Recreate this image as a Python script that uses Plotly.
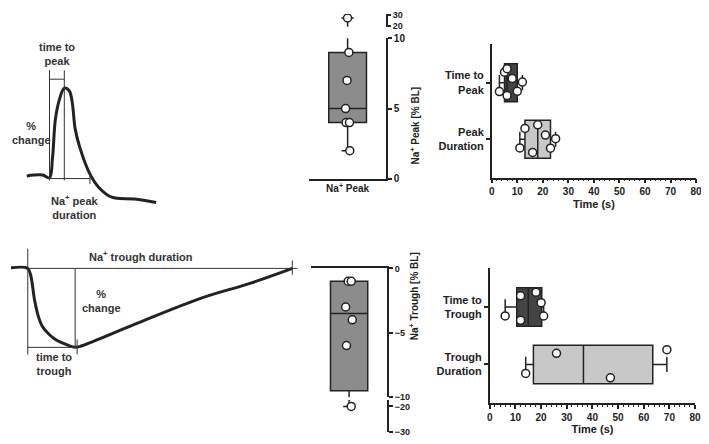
import math
import plotly.graph_objects as go

W, H = 709, 444          # reference picture size
OFF = 8                  # page body margin of the html page
FW, FH = W - OFF, H - OFF

# ---------------- data ----------------
peak_cat = ["Na<sup>+</sup> Peak"]
na_peak = [2, 4, 4, 5, 7, 9, 27]            # % BL
na_trough = [-20, -6, -4, -3, -1, -1]       # % BL
peak_ticks_low = [0, 5, 10]
peak_ticks_high = [20, 30]
trough_ticks_high = [0, -5, -10]
trough_ticks_low = [-20, -30]

peak_cats = ["Time to<br>Peak", "Peak<br>Duration"]
time_to_peak = [3, 5, 6, 6, 8, 10, 12]      # s
peak_duration = [11, 13, 16, 18, 21, 23, 25]
trough_cats = ["Time to<br>Trough", "Trough<br>Duration"]
time_to_trough = [6, 12, 12, 18, 20, 21]
trough_duration = [14, 26, 47, 69]
time_ticks = [0, 10, 20, 30, 40, 50, 60, 70, 80]

# schematic traces (arbitrary time units, % change from baseline)
peak_curve_t = [-1, 15, 22, 25, 28, 32, 37, 42, 45, 48, 53, 63, 72, 85, 108, 130]
peak_curve_v = [1, 2, -1, 21, 65, 87, 100, 97, 84, 54, 32, 3, -12, -23, -25, -29]
trough_curve_t = [-22, 0, 3, 7, 11, 15, 22, 28, 38, 48, 55, 108, 175, 225, 268]
trough_curve_v = [0, 0, -9, -41, -62, -74, -84, -90, -96, -100, -98, -71, -38, -19, 0]
peak_rise_t, peak_top_t, peak_end_t = 22, 37, 63
trough_start_t, trough_min_t, trough_end_t = 0, 48, 268

# ---------------- helpers (reference pixels -> paper) ----------------
def px(a):
    return (a - OFF) / FW

def py(b):
    return 1 - (b - OFF) / FH

def dx(a, b):
    return [max(px(a), 0), min(px(b), 1)]

def dy(top, bottom):
    return [max(py(bottom), 0), min(py(top), 1)]

def quant(vals, p):
    s = sorted(vals)
    n = len(s)
    pos = (n + 1) * p
    k = math.floor(pos)
    f = pos - k
    if k < 1:
        return s[0]
    if k >= n:
        return s[-1]
    return s[k - 1] + f * (s[k] - s[k - 1])

def stats(vals):
    return dict(q1=[quant(vals, 0.25)], median=[quant(vals, 0.5)],
                q3=[quant(vals, 0.75)], lowerfence=[min(vals)], upperfence=[max(vals)])

INK = "#222222"
FONT = "Liberation Sans, Arial, sans-serif"
pt_marker = dict(color="white", size=8, line=dict(color=INK, width=1.5))
clear = "rgba(0,0,0,0)"

fig = go.Figure()

# ---------------- schematics ----------------
fig.add_trace(go.Scatter(x=peak_curve_t, y=peak_curve_v, mode="lines",
                         line=dict(color=INK, width=3, shape="spline"),
                         xaxis="x", yaxis="y", hoverinfo="skip"))
gt = [peak_rise_t, peak_rise_t, None, peak_top_t, peak_top_t, None,
      peak_rise_t, peak_top_t, None, peak_rise_t, peak_end_t, None, peak_end_t, peak_end_t]
gv = [120, -4, None, 120, -4, None, 110, 110, None, -2, -2, None, 3, -8]
fig.add_trace(go.Scatter(x=gt, y=gv, mode="lines", line=dict(color="#333", width=1),
                         xaxis="x", yaxis="y", hoverinfo="skip"))

fig.add_trace(go.Scatter(x=trough_curve_t, y=trough_curve_v, mode="lines",
                         line=dict(color=INK, width=3, shape="spline"),
                         xaxis="x2", yaxis="y2", hoverinfo="skip"))
bt = [trough_start_t, trough_end_t + 5, None, trough_start_t, trough_start_t, None,
      trough_min_t, trough_min_t, None, trough_end_t, trough_end_t, None,
      trough_start_t, trough_min_t + 2, None, trough_min_t + 2, trough_min_t + 2]
bv = [0, 0, None, 25, -109, None, 0, -100, None, 10, -8, None, -100, -100, None, -90, -109]
fig.add_trace(go.Scatter(x=bt, y=bv, mode="lines", line=dict(color="#333", width=1),
                         xaxis="x2", yaxis="y2", hoverinfo="skip"))

# ---------------- vertical box panels (broken axes) ----------------
def vbox(vals, xa, ya, fill):
    fig.add_trace(go.Box(x=[0], orientation="v", **stats(vals), width=0.49,
                         whiskerwidth=0.32, fillcolor=fill,
                         line=dict(color=INK, width=1.5), boxpoints=False,
                         xaxis=xa, yaxis=ya, hoverinfo="skip"))
    fig.add_trace(go.Box(y=vals, x0=0, boxpoints="all", jitter=0.22, pointpos=0,
                         width=0.49, fillcolor=clear, line=dict(color=clear),
                         marker=pt_marker, xaxis=xa, yaxis=ya, hoverinfo="skip"))

for ya in ["y3", "y4"]:
    vbox(na_peak, "x3", ya, "#8c8c8c")
for ya in ["y6", "y7"]:
    vbox(na_trough, "x5", ya, "#8c8c8c")

# ---------------- horizontal box panels ----------------
def hbox(vals, pos, xa, ya, fill):
    fig.add_trace(go.Box(y=[pos], orientation="h", **stats(vals), width=0.67,
                         whiskerwidth=0.4, fillcolor=fill,
                         line=dict(color=INK, width=1.5), boxpoints=False,
                         xaxis=xa, yaxis=ya, hoverinfo="skip"))
    fig.add_trace(go.Box(x=vals, y0=pos, orientation="h", boxpoints="all", jitter=0.9,
                         pointpos=0, width=0.67, fillcolor=clear, line=dict(color=clear),
                         marker=pt_marker, xaxis=xa, yaxis=ya, hoverinfo="skip"))

hbox(time_to_peak, 0, "x4", "y5", "#444444")
hbox(peak_duration, 1, "x4", "y5", "#c8c8c8")
hbox(time_to_trough, 0, "x6", "y8", "#444444")
hbox(trough_duration, 1, "x6", "y8", "#c8c8c8")

# ---------------- layout ----------------
hidden = dict(visible=False, fixedrange=True)
axline = dict(showline=True, linecolor=INK, linewidth=1.5, showgrid=False,
              zeroline=False, ticks="outside", ticklen=4, tickwidth=1.5,
              tickcolor=INK, tickfont=dict(size=10, color=INK, weight="bold"))
small_ticks = dict(size=9, color=INK, weight="bold")
time_x = dict(axline, range=[0, 80], tickvals=time_ticks,
              minor=dict(dtick=2, ticks="outside", ticklen=2, tickwidth=1, tickcolor=INK),
              title=dict(text="Time (s)", font=dict(size=11, color=INK, weight="bold"), standoff=4))

fig.update_layout(
    width=FW, height=FH, margin=dict(l=0, r=0, t=0, b=0),
    paper_bgcolor="white", plot_bgcolor="rgba(0,0,0,0)", showlegend=False,
    boxmode="overlay",
    font=dict(family=FONT, size=10, color=INK, weight="bold"),
    xaxis=dict(hidden, domain=dx(8, 175), range=[-17, 150]),
    yaxis=dict(hidden, domain=dy(30, 222), range=[-50.5, 160.4]),
    xaxis2=dict(hidden, domain=dx(8, 310), range=[-17, 285], anchor="y2"),
    yaxis2=dict(hidden, domain=dy(240, 390), range=[-148.1, 37.0], anchor="x2"),
    xaxis3=dict(axline, domain=dx(310, 388), range=[-0.5, 0.5], anchor="y3",
                tickvals=[0], ticktext=peak_cat, ticks=""),
    yaxis3=dict(axline, domain=dy(34, 178), range=[0, 10], anchor="x3", side="right",
                tickvals=peak_ticks_low),
    yaxis4=dict(axline, domain=dy(9, 22), range=[19.5, 30.5], anchor="x3", side="right",
                tickvals=peak_ticks_high, tickfont=small_ticks, ticklen=3),
    xaxis4=dict(time_x, domain=dx(495, 702), anchor="y5"),
    yaxis5=dict(axline, domain=dy(40, 177), range=[1.68, -0.68], anchor="x4",
                tickvals=[0, 1], ticktext=peak_cats, tickfont=dict(size=11, color=INK, weight="bold")),
    xaxis5=dict(axline, domain=dx(312, 389), range=[-0.5, 0.5], anchor="y6", side="top",
                showticklabels=False, ticks=""),
    yaxis6=dict(axline, domain=dy(270, 402), range=[-10, 0], anchor="x5", side="right",
                tickvals=trough_ticks_high, tickfont=small_ticks),
    yaxis7=dict(axline, domain=dy(405, 438), range=[-30, -17.5], anchor="x5", side="right",
                tickvals=trough_ticks_low, tickfont=small_ticks),
    xaxis6=dict(time_x, domain=dx(493, 701), anchor="y8"),
    yaxis8=dict(axline, domain=dy(270, 408), range=[1.67, -0.67], anchor="x6",
                tickvals=[0, 1], ticktext=trough_cats, tickfont=dict(size=11, color=INK, weight="bold")),
)

sch_font = dict(family=FONT, size=11, color="#333", weight="bold")
notes = [
    ("x", "y", 30, 138.5, "time to<br>peak"),
    ("x", "y", 4, 49.5, "%<br>change"),
    ("x", "y", 48, -34, "Na<sup>+</sup> peak<br>duration"),
    ("x2", "y2", 115, 16, "Na<sup>+</sup> trough duration"),
    ("x2", "y2", 75, -40.7, "%<br>change"),
    ("x2", "y2", 27, -121, "time to<br>trough"),
]
for xr, yr, x, y, t in notes:
    fig.add_annotation(xref=xr, yref=yr, x=x, y=y, text=t, showarrow=False,
                       font=sch_font, align="center")

for y_px, t in [(82, "Na<sup>+</sup> Peak [% BL]"), (346, "Na<sup>+</sup> Trough [% BL]")]:
    fig.add_annotation(xref="paper", yref="paper", x=px(417), y=py(y_px), text=t,
                       textangle=-90, showarrow=False,
                       font=dict(family=FONT, size=10, color=INK, weight="bold"))

fig.write_html("out.html")
